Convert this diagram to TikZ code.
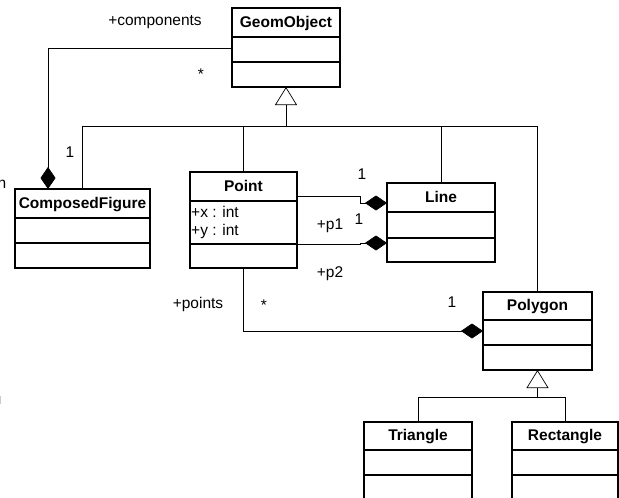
\documentclass[tikz,border=0pt]{standalone}
\usepackage{fontspec}
\setmainfont{Liberation Sans}
\usetikzlibrary{arrows.meta,calc}

\tikzset{
  classbox/.style={draw, line width=1.1pt, inner sep=0pt, outer sep=0pt, anchor=north west},
  divider/.style={line width=1.1pt},
  classtitle/.style={font=\fontsize{15.5}{18}\selectfont\bfseries, anchor=base, inner sep=0pt},
  lbl/.style={font=\fontsize{15.5}{18}\selectfont, anchor=base, inner sep=0pt},
  conn/.style={line width=0.7pt},
  comp/.style={conn, -{Diamond[length=22pt,width=15pt,fill=black]}},
  gen/.style={conn, -{Triangle[open,length=18pt,width=22pt,fill=white]}},
}

% #1 name, #2 left, #3 top, #4 width, #5 header, #6 attributes, #7 operations, #8 title
\newcommand\umlclass[8]{%
  \node[classbox, minimum width=#4pt, minimum height=#5pt+#6pt+#7pt] (#1) at (#2,#3) {};
  \draw[divider] ($(#1.north west)+(0,#5)$) -- ($(#1.north east)+(0,#5)$);
  \draw[divider] ($(#1.north west)+(0,#5+#6)$) -- ($(#1.north east)+(0,#5+#6)$);
  \node[classtitle] (#1-title) at ($(#1.north)+(0,#5-9.5)$) {#8};
}

\begin{document}
\begin{tikzpicture}[x=1pt, y=-1pt]
  \useasboundingbox (0,0) rectangle (619,498);
  \fill[white] (0,0) rectangle (619,498);
  \clip (0,0) rectangle (619,498);

  % classes
  \umlclass{geom}{232}{8}{108}{29}{25}{25}{GeomObject}
  \umlclass{cf}{15}{189}{135}{29}{25}{25}{ComposedFigure}
  \umlclass{pt}{190}{172}{107}{29}{43}{24}{Point}
  \umlclass{line}{387}{183}{108}{29}{26}{24}{Line}
  \umlclass{poly}{483}{292}{109}{28}{25}{25}{Polygon}
  \umlclass{tri}{364}{422}{108}{28}{25}{40}{Triangle}
  \umlclass{rect}{512}{422}{106}{28}{25}{40}{Rectangle}

  % attributes of Point
  \node[lbl, anchor=base west] (px) at ($(pt.north west)+(1,45)$) {+x : int};
  \node[lbl, anchor=base west] (py) at ($(pt.north west)+(1,63)$) {+y : int};

  % generalization to GeomObject
  \coordinate (gj) at ($(geom.south)+(0,39)$);
  \draw[gen] (pt.north) |- (gj) -- (geom.south);
  \draw[conn] (cf.north) |- (gj);
  \draw[conn] (line.north) |- (gj);
  \draw[conn] (poly.north) |- (gj);

  % generalization to Polygon
  \coordinate (pj) at ($(poly.south)+(0,27)$);
  \draw[gen] (tri.north) |- (pj) -- (poly.south);
  \draw[conn] (rect.north) |- (pj);

  % compositions
  \draw[comp] ($(geom.north west)+(0,40)$) -| ($(cf.north west)+(33,0)$);
  \draw[comp] ($(pt.north east)+(0,24)$) -- ++(63,0) |- ($(line.north west)+(0,20)$);
  \draw[comp] ($(pt.south east)+(0,-24)$) -- ++(63,0) |- ($(line.north west)+(0,60)$);
  \draw[comp] (pt.south) |- ($(poly.north west)+(0,39)$);

  % role names and multiplicities
  \node[lbl] (l-comp) at (155,25) {+components};
  \node[lbl] (l-star1) at (201,79.5) {*};
  \node[lbl] (l-one1) at (70,157) {1};
  \node[lbl] (l-one2) at (362,179) {1};
  \node[lbl] (l-one3) at (359,224) {1};
  \node[lbl] (l-p1) at (330,229) {+p1};
  \node[lbl] (l-p2) at (330,277) {+p2};
  \node[lbl] (l-pts) at (198,308) {+points};
  \node[lbl] (l-star2) at (264,310.5) {*};
  \node[lbl] (l-one4) at (452,307) {1};

  % fragment at the left edge
  \node[lbl, anchor=base east] (l-n) at (6.5,188) {n};
  \draw[gray!40, line width=0.6pt] (0.4,396) -- (0.4,404);
\end{tikzpicture}
\end{document}
